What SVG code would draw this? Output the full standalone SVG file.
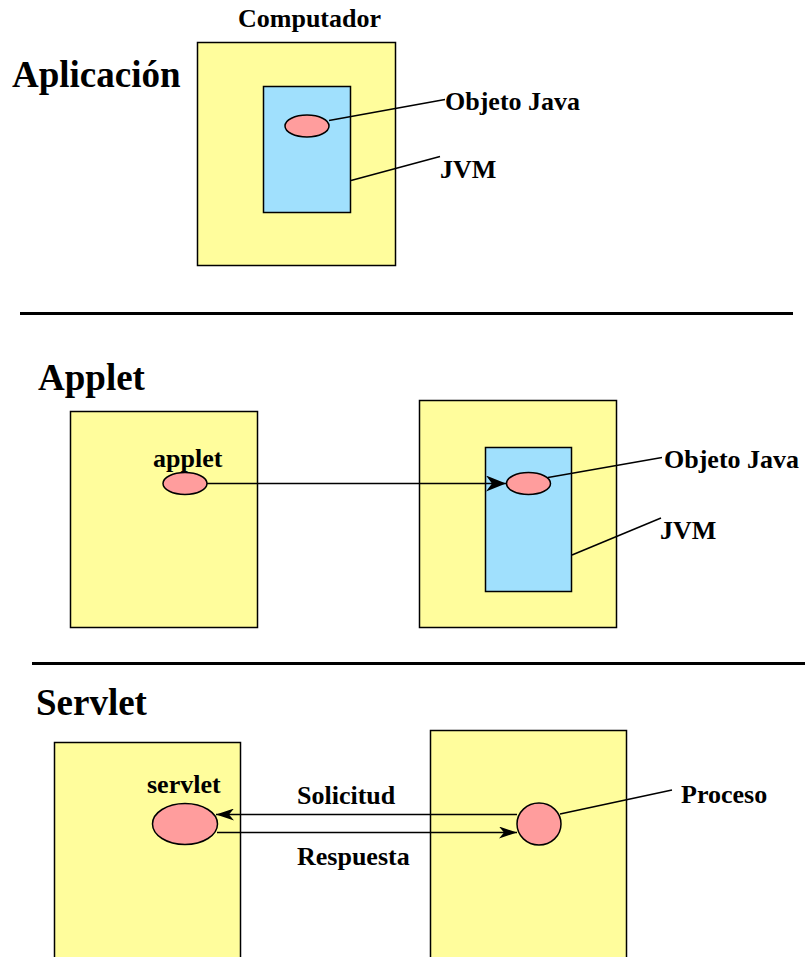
<svg xmlns="http://www.w3.org/2000/svg" width="805" height="957" viewBox="0 0 805 957">
  <style>
    text { font-family: "Liberation Serif", "Times New Roman", serif; font-weight: bold; fill: #000; }
    .title { font-size: 37px; }
    .lbl { font-size: 26px; }
    .host { fill: #FFFD9C; stroke: #000; stroke-width: 1.5; }
    .jvm { fill: #A0E0FD; stroke: #000; stroke-width: 1.5; }
    .obj { fill: #FF9D9D; stroke: #000; stroke-width: 1.5; }
    .lead { stroke: #000; stroke-width: 1.5; fill: none; }
    .arrow { stroke: #000; stroke-width: 1.5; fill: none; }
    .sep { stroke: #000; stroke-width: 3; }
  </style>
  <defs>
    <marker id="head" viewBox="0 0 20 16" refX="20" refY="8" markerWidth="20" markerHeight="16" markerUnits="userSpaceOnUse" orient="auto">
      <path d="M0,0 L20,8 L0,16 L6,8 Z" fill="#000"/>
    </marker>
    <marker id="headThin" viewBox="0 0 18 12" refX="18" refY="6" markerWidth="18" markerHeight="12" markerUnits="userSpaceOnUse" orient="auto">
      <path d="M0,0 L18,6 L0,12 L5,6 Z" fill="#000"/>
    </marker>
  </defs>

  <rect width="805" height="957" fill="#fff"/>

  <!-- Section 1: Aplicación -->
  <g id="title-aplicacion"><text class="title" x="12" y="87">Aplicación</text></g>
  <g id="computador">
    <rect class="host" x="197.5" y="42.5" width="198" height="223"/>
    <text class="lbl" x="238" y="27">Computador</text>
  </g>
  <g id="jvm1">
    <rect class="jvm" x="263.5" y="86.5" width="87" height="126"/>
    <text class="lbl" x="440" y="178">JVM</text>
  </g>
  <g id="objeto1">
    <ellipse class="obj" cx="307" cy="126" rx="22" ry="11"/>
    <text class="lbl" x="445" y="110">Objeto Java</text>
  </g>

  <g id="separators">
    <line class="sep" x1="20" y1="313.5" x2="793" y2="313.5"/>
    <line class="sep" x1="32" y1="663.5" x2="805" y2="663.5"/>
  </g>

  <!-- Section 2: Applet -->
  <g id="title-applet"><text class="title" x="38" y="390">Applet</text></g>
  <g id="cliente-applet">
    <rect class="host" x="70.5" y="411.5" width="187" height="216"/>
    <text class="lbl" x="153" y="467">applet</text>
  </g>
  <g id="applet-obj">
    <ellipse class="obj" cx="185" cy="483.5" rx="22" ry="11"/>
  </g>
  <g id="host-applet">
    <rect class="host" x="419.5" y="400.5" width="197" height="227"/>
  </g>
  <g id="jvm2">
    <rect class="jvm" x="485.5" y="447.5" width="86" height="144"/>
    <text class="lbl" x="660" y="539">JVM</text>
  </g>
  <g id="objeto2">
    <ellipse class="obj" cx="528.5" cy="483.5" rx="22" ry="11"/>
    <text class="lbl" x="664" y="468">Objeto Java</text>
  </g>

  <!-- Section 3: Servlet -->
  <g id="title-servlet"><text class="title" x="36" y="715">Servlet</text></g>
  <g id="cliente-servlet">
    <rect class="host" x="54.5" y="742.5" width="186" height="220"/>
    <text class="lbl" x="147" y="793">servlet</text>
  </g>
  <g id="servlet-obj">
    <ellipse class="obj" cx="185" cy="824" rx="32.5" ry="20.5"/>
  </g>
  <g id="servidor">
    <rect class="host" x="430.5" y="730.5" width="196" height="232"/>
  </g>
  <g id="proceso">
    <ellipse class="obj" cx="539" cy="824" rx="22" ry="21"/>
    <text class="lbl" x="681" y="803">Proceso</text>
  </g>

  <g id="connectors">
    <line class="lead" x1="329" y1="120.5" x2="445" y2="99.5"/>
    <line class="lead" x1="351" y1="180.5" x2="440" y2="156.5"/>
    <line class="arrow" x1="207" y1="483.5" x2="506" y2="483.5" marker-end="url(#head)"/>
    <line class="lead" x1="548" y1="477.5" x2="662" y2="457.5"/>
    <line class="lead" x1="572" y1="555" x2="661" y2="518"/>
    <line class="arrow" x1="517" y1="814.5" x2="216" y2="814.5" marker-end="url(#headThin)"/>
    <line class="arrow" x1="217" y1="832.5" x2="517" y2="832.5" marker-end="url(#headThin)"/>
    <line class="lead" x1="560" y1="814" x2="672" y2="790"/>
  </g>
  <g id="labels">
    <text class="lbl" x="297" y="804">Solicitud</text>
    <text class="lbl" x="297" y="865">Respuesta</text>
  </g>
</svg>
